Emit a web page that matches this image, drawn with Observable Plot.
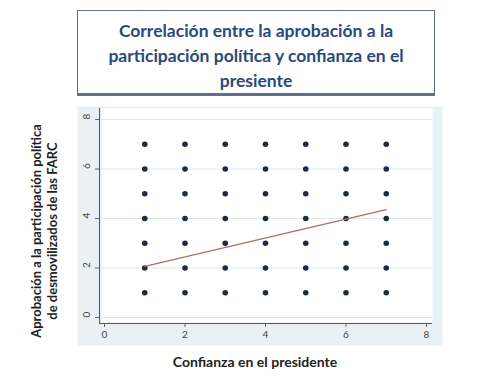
<!DOCTYPE html>
<html>
<head>
<meta charset="utf-8">
<script src="https://cdn.jsdelivr.net/npm/d3@7"></script>
<script src="https://cdn.jsdelivr.net/npm/@observablehq/plot@0.6"></script>
<style>
  html, body { margin: 0; padding: 0; background: #ffffff; }
  #wrap { position: relative; width: 480px; height: 378px; overflow: hidden; font-family: Lato, "Open Sans", sans-serif; }
  #title {
    position: absolute; left: 77px; top: 10px; width: 358px; height: 86px;
    border: 1.5px solid #5f7188; border-bottom-width: 3px; box-sizing: border-box;
    color: #2a4a7c; font-weight: 700; font-size: 17.5px; line-height: 25px;
    text-align: center; padding-top: 7px; background: #fff;
  }
  #chart { position: absolute; left: 0; top: 100px; }
  #ytitle {
    position: absolute; left: 44px; top: 231px; width: 260px;
    transform: translate(-50%, -50%) rotate(-90deg);
    text-align: center; font-weight: 700; font-size: 13px; line-height: 16px; color: #222;
  }
  #xtitle {
    position: absolute; left: 255px; top: 353px; transform: translateX(-50%);
    white-space: nowrap; font-weight: 700; font-size: 14px; color: #222;
  }
</style>
</head>
<body>
<div id="wrap">
  <div id="title">Correlación entre la aprobación a la<br>participación política y confianza en el<br>presiente</div>
  <div id="chart"></div>
  <div id="ytitle">Aprobación a la participación política<br>de desmovilizados de las FARC</div>
  <div id="xtitle">Confianza en el presidente</div>
</div>
<script>
// Data
const confianzaValues = [1, 2, 3, 4, 5, 6, 7];   // x categories
const aprobacionValues = [1, 2, 3, 4, 5, 6, 7];  // y categories
const xTicks = [0, 2, 4, 6, 8];
const yTicks = [0, 2, 4, 6, 8];
const fitX = [1, 7];
const fitY = [2.07, 4.36];

const points = confianzaValues.flatMap(x => aprobacionValues.map(y => ({x, y})));
const fitLine = fitX.map((x, i) => ({x, y: fitY[i]}));

const chart = Plot.plot({
  width: 480,
  height: 278,
  marginLeft: 104,
  marginRight: 54,
  marginTop: 19,
  marginBottom: 61,
  style: {fontFamily: "Lato, 'Open Sans', sans-serif", fontSize: "10px", color: "#444", background: "transparent"},
  x: {domain: [0, 8], axis: null},
  y: {domain: [0, 8], axis: null},
  marks: [
    Plot.frame({fill: "#eaf1f4", stroke: null, insetLeft: -27, insetRight: -16, insetTop: -13, insetBottom: -28}),
    Plot.frame({fill: "#ffffff", stroke: null, insetLeft: -3, insetRight: -6, insetTop: -11, insetBottom: -5}),
    Plot.gridY(yTicks, {stroke: "#dde7ec", strokeOpacity: 1, insetLeft: -3, insetRight: -6}),
    Plot.ruleX([0], {dx: -5, stroke: "#555", strokeWidth: 1, insetTop: -11, insetBottom: -6}),
    Plot.ruleY([0], {dy: 6, stroke: "#555", strokeWidth: 1, insetLeft: -5, insetRight: -6}),
    Plot.axisX({ticks: xTicks, tickSize: 4, dy: 6, tickPadding: 3, label: null, stroke: "#666", fill: "#444", fontSize: 10}),
    Plot.axisY({ticks: yTicks, tickSize: 4, dx: -5, tickFormat: () => "", label: null, stroke: "#666"}),
    Plot.text(yTicks, {y: d => d, text: d => String(d), frameAnchor: "left", dx: -18, rotate: -90, fill: "#444", fontSize: 10}),
    Plot.dot(points, {x: "x", y: "y", r: 2.8, fill: "#1c2a45", stroke: null}),
    Plot.line(fitLine, {x: "x", y: "y", stroke: "#b56a62", strokeWidth: 1.3})
  ]
});
document.getElementById("chart").appendChild(chart);
</script>
</body>
</html>
